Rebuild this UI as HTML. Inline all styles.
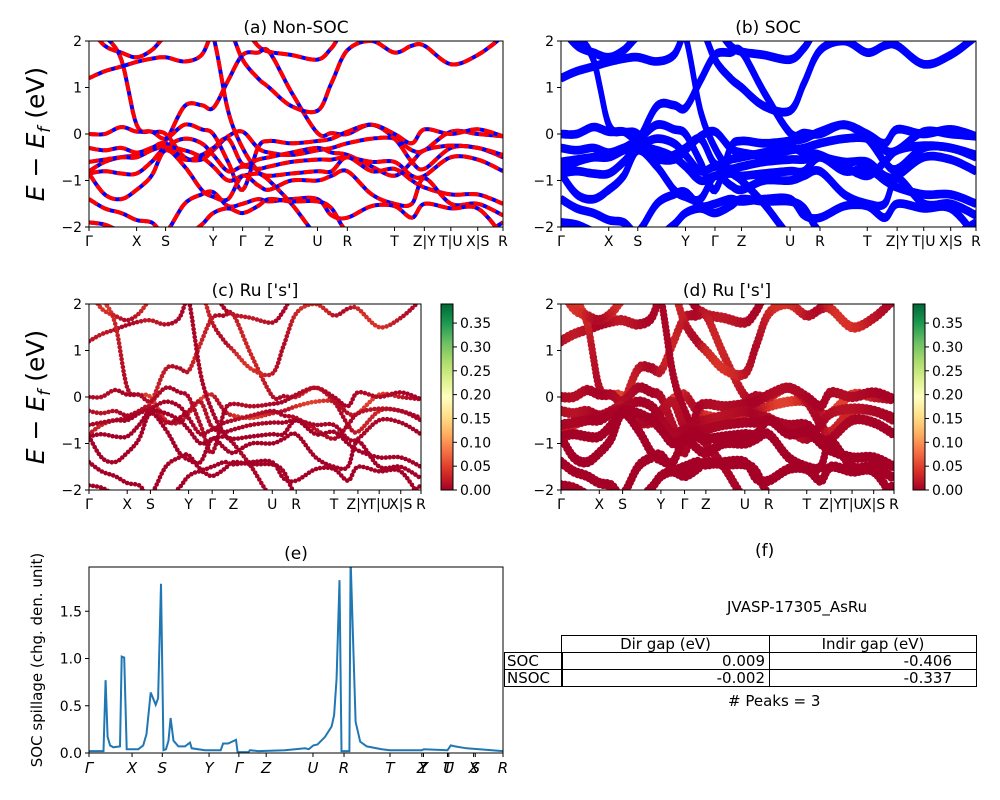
<!DOCTYPE html>
<html><head><meta charset="utf-8"><style>
body{margin:0;background:#fff}
svg{display:block;font-family:"DejaVu Sans","Liberation Sans",sans-serif}
</style></head><body>
<svg id="fig" width="1000" height="800" viewBox="0 0 1000 800">
<defs>
<linearGradient id="cbgrad" x1="0" y1="1" x2="0" y2="0">
<stop offset="0" stop-color="#a50026"/><stop offset="0.1" stop-color="#d73027"/><stop offset="0.2" stop-color="#f46d43"/><stop offset="0.3" stop-color="#fdae61"/><stop offset="0.4" stop-color="#fee08b"/><stop offset="0.5" stop-color="#ffffbf"/><stop offset="0.6" stop-color="#d9ef8b"/><stop offset="0.7" stop-color="#a6d96a"/><stop offset="0.8" stop-color="#66bd63"/><stop offset="0.9" stop-color="#1a9850"/><stop offset="1" stop-color="#006837"/>
</linearGradient>
</defs>
</svg>
<script>
// ---- band-structure data ----
const kGrid=[0,.038,.078,.115,.151,.185,.231,.272,.300,.336,.371,.408,.435,.489,.552,.586,.624,.683,.738,.780,.810,.874,.939,1];
const kTickPos=[0,.115,.185,.300,.371,.435,.552,.624,.738,.810,.874,.939,1];
const kTickLabels=["Γ","X","S","Y","Γ","Z","U","R","T","Z|Y","T|U","X|S","R"];
const band1=[1.2,1.35,1.45,1.55,1.62,1.65,1.56,1.7,2.2,2.4,2.3,1.9,1.77,1.7,1.6,1.85,2.3,2.3,2.3,2.3,2.3,2.3,2.3,2.3];
const band2=[2.3,2.1,1.6,0.2,0.05,0.0,-0.5,-0.55,-0.35,-0.05,0.05,-0.3,-0.4,-0.45,-0.35,-0.3,-0.2,-0.1,-0.1,-0.35,-0.35,0.05,0.0,-0.05];
const band3=[-0.8,-0.6,-0.5,-0.45,-0.3,-0.15,0.6,0.62,0.56,1.15,1.7,1.75,1.77,0.9,0.02,0.02,0.0,0.2,-0.1,-0.6,-0.75,-0.3,-0.3,-0.5];
const band4=[0.0,0.0,0.15,0.05,0.05,-0.1,0.2,0.1,0.0,-0.6,-1.2,-0.3,-0.15,-0.2,-0.15,-0.1,0.05,0.2,0.0,-0.2,0.1,0.0,0.1,-0.05];
const band5=[2.3,2.3,2.3,2.3,2.3,2.3,2.3,2.3,2.1,0.5,-0.3,-0.8,-1.0,-1.5,-2.2,-2.2,-2.2,-2.2,-2.3,-2.3,-2.3,-2.3,-2.3,-2.3];
const band6=[-0.3,-0.35,-0.3,-0.4,-0.3,-0.2,-0.55,-0.45,-0.3,-0.1,-0.65,-0.55,-0.5,-0.4,-0.3,-0.4,-0.45,-0.7,-0.9,-0.6,-0.35,-0.25,-0.3,-0.45];
const band7=[-0.6,-0.55,-0.5,-0.5,-0.35,-0.25,-0.1,-0.2,-0.45,-0.8,-0.7,-0.75,-0.7,-0.6,-0.55,-0.55,-0.5,-0.6,-0.6,-0.9,-0.9,-0.5,-0.55,-0.8];
const band8=[-0.85,-0.8,-0.85,-0.85,-0.6,-0.3,-0.35,-0.5,-0.7,-1.0,-0.9,-0.85,-0.9,-0.85,-0.8,-0.8,-0.5,-0.8,-0.75,-1.0,-1.15,-1.3,-1.3,-1.5];
const band9=[-0.85,-1.3,-1.4,-1.2,-0.9,-0.35,-0.7,-1.2,-1.35,-1.4,-0.9,-1.1,-1.2,-1.0,-1.0,-0.9,-0.8,-1.3,-1.5,-1.5,-0.95,-1.5,-1.5,-1.75];
const band10=[-1.4,-1.6,-1.7,-1.85,-1.9,-2.1,-1.5,-1.3,-1.25,-1.55,-1.5,-1.4,-1.45,-1.4,-1.4,-1.75,-1.8,-1.55,-1.55,-1.8,-1.5,-1.6,-1.6,-2.2];
const band11=[-1.9,-1.95,-2.1,-2.2,-2.2,-2.2,-2.2,-1.95,-1.7,-1.6,-1.7,-1.55,-1.4,-1.45,-1.45,-1.6,-2.1,-2.2,-2.2,-2.2,-2.2,-2.2,-2.2,-1.9];
const band12=[2.3,1.9,1.75,1.65,1.8,2.1,2.3,2.3,2.3,2.3,1.6,1.2,1.0,0.6,0.5,1.1,1.8,2.0,1.75,1.9,1.9,1.5,1.7,2.1];
const bands=[band1,band2,band3,band4,band5,band6,band7,band8,band9,band10,band11,band12];
const bandWeights=[0.02,0.05,0.03,0.01,0.005,0.015,0.005,0.0,0.0,0.0,0.0,0.04];
const yTicks=[-2,-1,0,1,2];
const cbTicks=[0,0.05,0.1,0.15,0.2,0.25,0.3,0.35];
// ---- spillage data ----
const spillK=[0,.035,.040,.045,.051,.059,.075,.079,.085,.091,.119,.131,.139,.149,.161,.167,.174,.18,.186,.192,.197,.204,.216,.232,.244,.248,.28,.318,.324,.336,.355,.359,.385,.389,.409,.473,.522,.531,.542,.552,.570,.586,.592,.598,.605,.610,.629,.632,.644,.655,.671,.707,.727,.804,.809,.866,.874,.884,.912,1];
const spillV=[.02,.02,.77,.17,.08,.06,.07,1.02,1.01,.04,.04,.08,.2,.64,.51,.58,1.79,.03,.04,.13,.37,.13,.07,.07,.11,.05,.03,.03,.10,.10,.14,.01,.01,.03,.02,.03,.05,.04,.08,.09,.17,.28,.40,.79,1.83,.02,.02,2.05,.33,.12,.07,.04,.03,.03,.04,.03,.08,.07,.05,.02];
const spillTickPos=[0,.104,.177,.290,.362,.428,.541,.616,.727,.804,.808,.866,.869,.929,.933,1];
const spillTickLabels=["Γ","X","S","Y","Γ","Z","U","R","T","Z","Y","T","U","X","S","R"];
const spillYTicks=[0,0.5,1.0,1.5];

const NS="http://www.w3.org/2000/svg";
const svg=document.getElementById('fig');
function mk(tag,attrs,parent){const e=document.createElementNS(NS,tag);for(const k in attrs)e.setAttribute(k,attrs[k]);(parent||svg).appendChild(e);return e;}
function txt(s,attrs,parent){const e=mk('text',attrs,parent);e.textContent=s;return e;}
const cmapStops=["#a50026","#d73027","#f46d43","#fdae61","#fee08b","#ffffbf","#d9ef8b","#a6d96a","#66bd63","#1a9850","#006837"];
function hex(c){return [1,3,5].map(i=>parseInt(c.substr(i,2),16));}
function cmap(v){let t=Math.max(0,Math.min(1,v/0.39))*10;const i=Math.min(9,Math.floor(t));const f=t-i;const a=hex(cmapStops[i]),b=hex(cmapStops[i+1]);return 'rgb('+a.map((x,j)=>Math.round(x+(b[j]-x)*f)).join(',')+')';}
// Catmull-Rom smoothing
function smooth(pts,n){const out=[];for(let i=0;i<pts.length-1;i++){const p0=pts[Math.max(0,i-1)],p1=pts[i],p2=pts[i+1],p3=pts[Math.min(pts.length-1,i+2)];
  for(let j=0;j<n;j++){const t=j/n,t2=t*t,t3=t2*t;
    const f=(a,b,c,d)=>0.5*((2*b)+(-a+c)*t+(2*a-5*b+4*c-d)*t2+(-a+3*b-3*c+d)*t3);
    out.push([f(p0[0],p1[0],p2[0],p3[0]),f(p0[1],p1[1],p2[1],p3[1])]);}}
  out.push(pts[pts.length-1]);return out;}

let clipId=0;
function panel(x0,y0,w,h,mode,title,titleX){
  const g=mk('g',{});
  
  
  const cid='clip'+(clipId++);
  const cp=mk('clipPath',{id:cid},g);mk('rect',{x:x0,y:y0,width:w,height:h},cp);
  const xs=k=>x0+k*w, ys=e=>y0+(2-e)/4*h;
  const plot=mk('g',{'clip-path':'url(#'+cid+')'},g);
  bands.forEach((b,bi)=>{
    const offs=(mode==='soc'||mode==='projsoc')?[-0.04,0.04]:[0];
    offs.forEach(o=>{
      const raw=b.map((e,i)=>[xs(kGrid[i]),ys(e+o)]);
      const pts=smooth(raw,8);
      if(mode==='nsoc'||mode==='soc'){
        const d=pts.map((p,i)=>(i?'L':'M')+p[0].toFixed(1)+','+p[1].toFixed(1)).join(' ');
        if(mode==='nsoc'){
          const p1=mk('path',{d:d,fill:'none',stroke:'#0000ff','stroke-width':4},plot);
          
          const p2=mk('path',{d:d,fill:'none',stroke:'#ff0000','stroke-width':4,'stroke-dasharray':'10,4'},plot);
          
        }else{
          const p=mk('path',{d:d,fill:'none',stroke:'#0000ff','stroke-width':5},plot);
          
        }
      }else{
        const r=mode==='proj'?2.3:3.4;
        let acc=4;
        for(let i=0;i<pts.length-1;i++){
          const [xa,ya]=pts[i],[xb,yb]=pts[i+1];const L=Math.hypot(xb-xa,yb-ya);
          let s=4-acc;
          while(s<=L){const t=L?s/L:0;
            const c=mk('circle',{cx:(xa+(xb-xa)*t).toFixed(1),cy:(ya+(yb-ya)*t).toFixed(1),r:r,fill:cmap(bandWeights[bi]*(0.6+0.4*Math.sin(i*0.2)))},plot);
            
            s+=4;}
          acc=L-(s-4);
        }
      }
    });
  });
  const fr=mk('rect',{x:x0,y:y0,width:w,height:h,fill:'none',stroke:'#000','stroke-width':1},g);
  
  yTicks.forEach(t=>{
    mk('line',{x1:x0-4,x2:x0,y1:ys(t),y2:ys(t),stroke:'#000'},g);
    const l=txt(String(t).replace('-','−'),{x:x0-7,y:ys(t)+5,'text-anchor':'end','font-size':14},g);
    
  });
  kTickPos.forEach((k,i)=>{
    mk('line',{x1:xs(k),x2:xs(k),y1:y0+h,y2:y0+h+4,stroke:'#000'},g);
    const l=txt(kTickLabels[i],{x:xs(k),y:y0+h+19,'text-anchor':'middle','font-size':14},g);
    
  });
  const t=txt(title,{x:titleX,y:y0-8,'text-anchor':'middle','font-size':17},g);
  
}
panel(89,41,414,186,'nsoc','(a) Non-SOC',296);
panel(561,41,415,186,'soc','(b) SOC',768);
panel(89,304,332,186,'proj','(c)  Ru [\'s\']',255);
panel(561,304,333,186,'projsoc','(d) Ru [\'s\']',727);

function colorbar(x,y,w,h){
  const r=mk('rect',{x:x,y:y,width:w,height:h,fill:'url(#cbgrad)',stroke:'#000','stroke-width':1});
  
  cbTicks.forEach(t=>{const yy=y+h-t/0.39*h;
    mk('line',{x1:x+w,x2:x+w+4,y1:yy,y2:yy,stroke:'#000'});
    const l=txt(t.toFixed(2),{x:x+w+7,y:yy+5,'font-size':14});
    
  });
}
colorbar(441,304,12,186);
colorbar(913,304,12,186);

[[134],[397]].forEach(([cy])=>{
  const l=txt('',{transform:'translate(44,'+cy+') rotate(-90)','text-anchor':'middle','font-size':25});
  l.innerHTML='<tspan font-style="italic">E</tspan> − <tspan font-style="italic">E</tspan><tspan font-style="italic" font-size="17" dy="6">f</tspan><tspan dy="-6"> (eV)</tspan>';
  
});

// panel (e)
(function(){
  const x0=89,y0=567,w=414,h=186;const xs=k=>x0+k*w, ys=v=>753-v*94.5;
  const cid='clipE';const cp=mk('clipPath',{id:cid});mk('rect',{x:x0,y:y0,width:w,height:h},cp);
  const d=spillK.map((k,i)=>(i?'L':'M')+xs(k).toFixed(1)+','+ys(spillV[i]).toFixed(1)).join(' ');
  const p=mk('path',{d:d,fill:'none',stroke:'#1f77b4','stroke-width':2,'clip-path':'url(#clipE)'});
  
  const fr=mk('rect',{x:x0,y:y0,width:w,height:h,fill:'none',stroke:'#000'});
  
  spillYTicks.forEach(t=>{mk('line',{x1:x0-4,x2:x0,y1:ys(t),y2:ys(t),stroke:'#000'});
    const l=txt(t.toFixed(1),{x:x0-7,y:ys(t)+5,'text-anchor':'end','font-size':14});
    });
  spillTickPos.forEach((k,i)=>{mk('line',{x1:xs(k),x2:xs(k),y1:y0+h,y2:y0+h+4,stroke:'#000'});
    const l=txt(spillTickLabels[i],{x:xs(k),y:y0+h+20,'text-anchor':'middle','font-size':15,'font-style':'italic'});
    });
  const t=txt('(e)',{x:296,y:559,'text-anchor':'middle','font-size':17});
  
  const yl=txt('SOC spillage (chg. den. unit)',{transform:'translate(42,660) rotate(-90)','text-anchor':'middle','font-size':15});
  
})();
</script>
<div style="position:absolute;left:0;top:0;width:1000px;height:800px;pointer-events:none;font-family:'DejaVu Sans','Liberation Sans',sans-serif;font-size:15px">
<div style="position:absolute;left:755px;top:541px;font-size:17px">(f)</div>
<div style="position:absolute;left:727px;top:598px">JVASP-17305_AsRu</div>
<div style="position:absolute;left:561px;top:635px;width:207px;height:16px;border:1px solid #000;text-align:center;line-height:16px">Dir gap (eV)</div>
<div style="position:absolute;left:769px;top:635px;width:206px;height:16px;border:1px solid #000;text-align:center;line-height:16px">Indir gap (eV)</div>
<div style="position:absolute;left:504px;top:652px;width:55px;height:16px;border:1px solid #000;line-height:16px;padding-left:2px">SOC</div>
<div style="position:absolute;left:561px;top:652px;width:203px;height:16px;border:1px solid #000;text-align:right;line-height:16px;padding-right:4px">0.009</div>
<div style="position:absolute;left:769px;top:652px;width:182px;height:16px;border:1px solid #000;text-align:right;line-height:16px;padding-right:24px">-0.406</div>
<div style="position:absolute;left:504px;top:669px;width:55px;height:16px;border:1px solid #000;line-height:16px;padding-left:2px">NSOC</div>
<div style="position:absolute;left:561px;top:669px;width:203px;height:16px;border:1px solid #000;text-align:right;line-height:16px;padding-right:4px">-0.002</div>
<div style="position:absolute;left:769px;top:669px;width:182px;height:16px;border:1px solid #000;text-align:right;line-height:16px;padding-right:24px">-0.337</div>
<div style="position:absolute;left:728px;top:692px"># Peaks = 3</div>
</div>
</body></html>
